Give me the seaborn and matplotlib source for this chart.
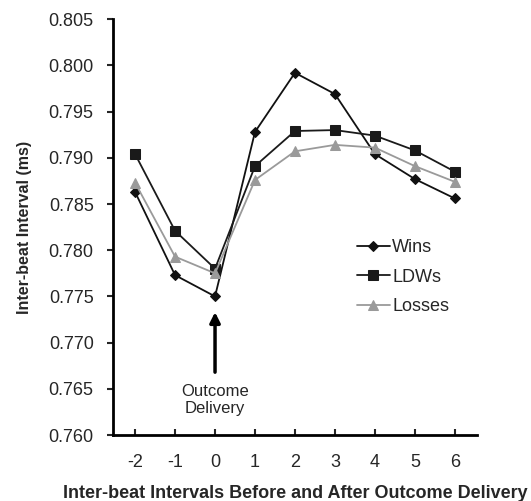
import matplotlib
matplotlib.use("Agg")
import matplotlib.pyplot as plt
import seaborn as sns
import pandas as pd

# interval index relative to outcome delivery
intervals = [-2, -1, 0, 1, 2, 3, 4, 5, 6]
wins = [0.7863, 0.7773, 0.7750, 0.7928, 0.7992, 0.7969, 0.7904, 0.7877, 0.7856]
ldws = [0.7904, 0.7821, 0.7780, 0.7891, 0.7929, 0.7930, 0.7924, 0.7908, 0.7885]
losses = [0.7873, 0.7793, 0.7775, 0.7876, 0.7907, 0.7914, 0.7911, 0.7891, 0.7874]
y_ticks = [0.760, 0.765, 0.770, 0.775, 0.780, 0.785, 0.790, 0.795, 0.800, 0.805]

df = pd.DataFrame({
    'Interval': intervals * 3,
    'IBI': wins + ldws + losses,
    'Outcome': ['Wins'] * 9 + ['LDWs'] * 9 + ['Losses'] * 9,
})

sns.set_style('white')
plt.rcParams['font.family'] = ['Liberation Sans', 'DejaVu Sans']

fig = plt.figure(figsize=(5.31, 5.01), dpi=100)
ax = fig.add_axes([0.213, 0.1317, 0.685, 0.830])

palette = {'Wins': '#111111', 'LDWs': '#1a1a1a', 'Losses': '#9a9a9a'}
markers = {'Wins': 'D', 'LDWs': 's', 'Losses': '^'}
sizes = {'Wins': 5, 'LDWs': 6.5, 'Losses': 6.5}

for name in ['Wins', 'LDWs', 'Losses']:
    sub = df[df['Outcome'] == name]
    sns.lineplot(data=sub, x='Interval', y='IBI', ax=ax, color=palette[name],
                 marker=markers[name], markersize=sizes[name], linewidth=1.3,
                 markeredgecolor=palette[name], label=name)

ax.set_xlim(-2.55, 6.55)
ax.set_ylim(0.760, 0.805)
ax.set_xticks(intervals)
ax.set_xticklabels([str(i) for i in intervals])
ax.set_yticks(y_ticks)
ax.set_yticklabels([f'{t:.3f}' for t in y_ticks])

for side in ['top', 'right']:
    ax.spines[side].set_visible(False)
for side in ['left', 'bottom']:
    ax.spines[side].set_color('black')
    ax.spines[side].set_linewidth(2)

ax.tick_params(axis='y', direction='out', length=4, width=1.5, labelsize=13, pad=10, left=True)
ax.tick_params(axis='x', direction='in', length=4, width=1.5, labelsize=13, pad=14, bottom=True)

ax.set_ylabel('Inter-beat Interval (ms)', fontweight='bold', fontsize=11.5, labelpad=12)
ax.set_xlabel('Inter-beat Intervals Before and After Outcome Delivery', fontweight='bold',
              fontsize=13, labelpad=10)

ax.annotate('', xy=(0, 0.7736), xytext=(0, 0.7665),
            arrowprops=dict(arrowstyle='-|>', color='black', lw=2.5, mutation_scale=15))
ax.text(0, 0.7655, 'Outcome\nDelivery', ha='center', va='top', fontsize=12, linespacing=1.15)

leg = ax.legend(loc='center left', bbox_to_anchor=(0.659, 0.447), bbox_transform=fig.transFigure,
                frameon=False, fontsize=13, handlelength=1.8, handletextpad=0.15,
                labelspacing=0.7, borderaxespad=0)

fig.savefig('out.png', dpi=100)
